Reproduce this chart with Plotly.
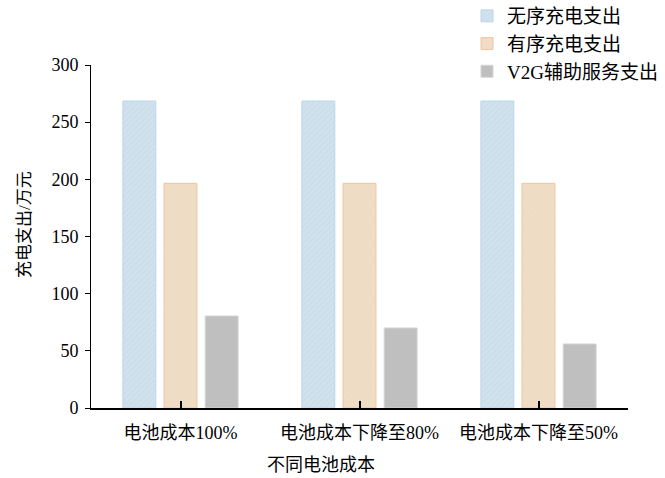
import plotly.graph_objects as go

# Charging cost comparison under different battery cost scenarios (unit: 10k CNY)
categories = ["电池成本100%", "电池成本下降至80%", "电池成本下降至50%"]
disordered = [268.5, 268.5, 268.5]      # 无序充电支出
ordered = [196.5, 196.5, 196.5]         # 有序充电支出
v2g = [80.5, 70.0, 56.0]                # V2G辅助服务支出

series_names = ["无序充电支出", "有序充电支出", "V2G辅助服务支出"]
x_pos = [0, 1, 2]

FONT = "Liberation Serif, Times New Roman, Noto Sans CJK SC, serif"

fig = go.Figure()
fig.add_trace(go.Bar(
    x=x_pos, y=disordered, name=series_names[0], legendgroup="a",
    marker=dict(color="#cfe1eb", line=dict(color="#bcd6ec", width=1),
                pattern=dict(shape="/", fgcolor="#bdd4e2", bgcolor="#d0e2ec",
                             size=4, solidity=0.25)),
))
fig.add_trace(go.Bar(
    x=x_pos, y=ordered, name=series_names[1], legendgroup="b",
    marker=dict(color="#efdcc5", line=dict(color="#f5c3a0", width=1),
                pattern=dict(shape="x", fgcolor="#e9d3ba", bgcolor="#f0ddc6",
                             size=4, solidity=0.2)),
))
fig.add_trace(go.Bar(
    x=x_pos, y=v2g, name=series_names[2], legendgroup="c",
    marker=dict(color="#bfbfbf", line=dict(color="#d6d6d6", width=1)),
))

fig.update_layout(
    width=665, height=478,
    margin=dict(l=91, r=37, t=65, b=70, autoexpand=False),
    paper_bgcolor="white", plot_bgcolor="white",
    font=dict(family=FONT, size=18, color="black"),
    barmode="group", bargap=0.31, bargroupgap=0.2,
    showlegend=True,
    legend=dict(xref="paper", yref="paper",
                x=(467 - 91) / 537, y=(408 + 3) / 343, xanchor="left", yanchor="top",
                bgcolor="rgba(0,0,0,0)", tracegroupgap=0,
                font=dict(family=FONT, size=19)),
    xaxis=dict(
        range=[-0.5, 2.5], tickmode="array", tickvals=x_pos, ticktext=categories,
        showline=True, linecolor="black", linewidth=1.5,
        ticks="inside", ticklen=7, tickwidth=1.5, tickcolor="black",
        showgrid=False, zeroline=False, ticklabelstandoff=8,
        tickfont=dict(family=FONT, size=18),
    ),
    yaxis=dict(
        range=[0, 300], tickvals=[0, 50, 100, 150, 200, 250, 300],
        showline=True, linecolor="black", linewidth=1,
        ticks="outside", ticklen=5, tickcolor="black",
        showgrid=False, zeroline=False, ticklabelstandoff=3,
        tickfont=dict(family=FONT, size=18),
    ),
    annotations=[
        dict(text="充电支出/万元", textangle=-90, xref="paper", yref="paper",
             x=(24 - 91) / 537, y=(408 - 225) / 343, xanchor="center", yanchor="middle",
             showarrow=False, font=dict(family=FONT, size=17)),
        dict(text="不同电池成本", xref="paper", yref="paper",
             x=(321 - 91) / 537, y=-(465 - 408) / 343, xanchor="center", yanchor="middle",
             showarrow=False, font=dict(family=FONT, size=18)),
    ],
)

fig.write_html("out.html")
